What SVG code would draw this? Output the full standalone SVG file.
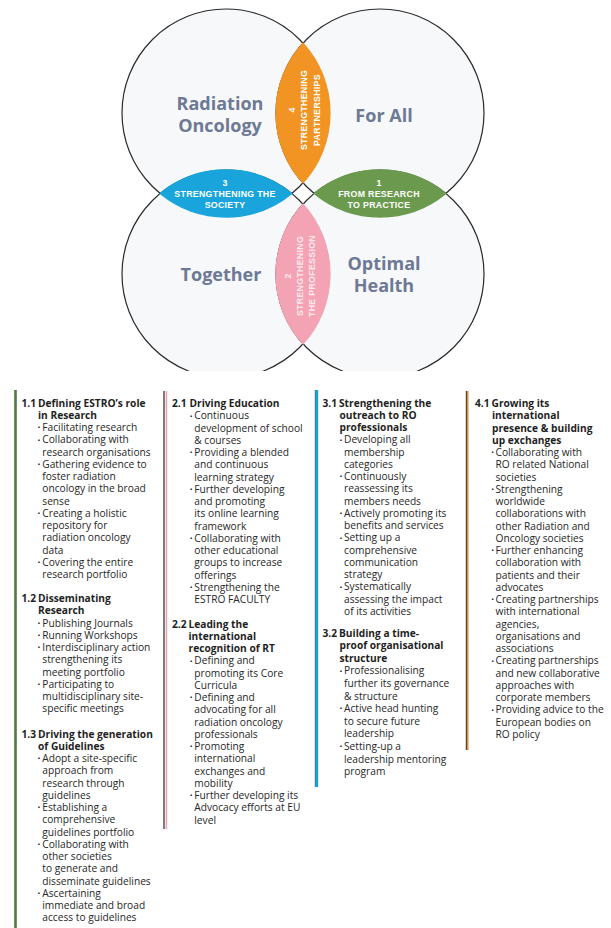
<svg xmlns="http://www.w3.org/2000/svg" width="611" height="928" viewBox="0 0 611 928">
<style>
.circ{fill:#f7f8fa;stroke:#2a2a2a;stroke-width:1.2}
.big{font-family:"Open Sans","Liberation Sans",sans-serif;font-weight:700;font-size:18px;fill:#6d7995;text-anchor:middle}
.lens{font-family:"Liberation Sans","DejaVu Sans",sans-serif;font-weight:700;font-size:8.8px;fill:#ffffff;text-anchor:middle;letter-spacing:0.3px}
.pk{fill:#fde9ee}
.h{font-family:"Open Sans","Liberation Sans",sans-serif;font-weight:700;font-size:10.2px;fill:#1e1e1e}
.t{font-family:"Open Sans","Liberation Sans",sans-serif;font-size:10.2px;fill:#262626}
.b{font-family:"Open Sans","Liberation Sans",sans-serif;font-size:7.5px;fill:#262626}
</style>
<defs>
<clipPath id="vclip"><rect x="0" y="0" width="611" height="371"/></clipPath>
</defs>
<rect width="611" height="928" fill="#ffffff"/>

<g id="venn" clip-path="url(#vclip)">
  <g id="circles">
    <circle class="circ" cx="226" cy="113" r="104"/>
    <circle class="circ" cx="380" cy="113" r="104"/>
    <circle class="circ" cx="226" cy="274" r="104"/>
    <circle class="circ" cx="380" cy="274" r="104"/>
  </g>
  <g id="lens4">
    <path d="M303,43.09 A104,104 0 0 0 303,182.91 A104,104 0 0 0 303,43.09 Z" fill="#f29423" stroke="#f29423" stroke-width="1.3"/>
    <g transform="translate(303,110) rotate(-90)">
      <text class="lens" x="0" y="-8.3">4</text>
      <text class="lens" x="0" y="3.5">STRENGTHENING</text>
      <text class="lens" x="0" y="16.5">PARTNERSHIPS</text>
    </g>
  </g>
  <g id="lens3">
    <path d="M160.15,193.5 A104,104 0 0 0 291.85,193.5 A104,104 0 0 0 160.15,193.5 Z" fill="#19a5dc" stroke="#19a5dc" stroke-width="1.3"/>
    <text class="lens" x="225" y="186">3</text>
    <text class="lens" x="225" y="196.8">STRENGTHENING THE</text>
    <text class="lens" x="225" y="208.3">SOCIETY</text>
  </g>
  <g id="lens1">
    <path d="M314.15,193.5 A104,104 0 0 0 445.85,193.5 A104,104 0 0 0 314.15,193.5 Z" fill="#6b9a4f" stroke="#6b9a4f" stroke-width="1.3"/>
    <text class="lens" x="379" y="186">1</text>
    <text class="lens" x="379" y="196.8">FROM RESEARCH</text>
    <text class="lens" x="379" y="208.3">TO PRACTICE</text>
  </g>
  <g id="lens2">
    <path d="M303,204.09 A104,104 0 0 0 303,343.91 A104,104 0 0 0 303,204.09 Z" fill="#f3a3b4" stroke="#f3a3b4" stroke-width="1.3"/>
    <g transform="translate(300,276) rotate(-90)">
      <text class="lens pk" x="0" y="-9">2</text>
      <text class="lens pk" x="0" y="2.5">STRENGTHENING</text>
      <text class="lens pk" x="0" y="15">THE PROFESSION</text>
    </g>
  </g>
  <g id="words">
    <text class="big" x="220" y="110">Radiation</text>
    <text class="big" x="220" y="132">Oncology</text>
    <text class="big" x="384" y="122">For All</text>
    <text class="big" x="221" y="281">Together</text>
    <text class="big" x="384" y="270">Optimal</text>
    <text class="big" x="384" y="292">Health</text>
  </g>
</g>

<g id="bars">
  <rect x="14.2" y="390" width="2.6" height="538" fill="#4f7a3c"/>
  <rect x="163.4" y="391" width="1.2" height="438" fill="#2a2a2a"/>
  <rect x="165.6" y="391" width="1.6" height="438" fill="#f0a3b2"/>
  <rect x="314.8" y="390" width="1" height="397" fill="#1f5f85"/>
  <rect x="315.8" y="390" width="2.4" height="397" fill="#1aa0dc"/>
  <rect x="465.8" y="391" width="1.1" height="359" fill="#3a2a1a"/>
  <rect x="466.9" y="391" width="1.6" height="359" fill="#d8923a"/>
</g>

<g id="col1">
  <text class="h" x="21.5" y="406.5">1.1</text>
  <text class="h" x="38" y="406.5">Defining ESTRO’s role</text>
  <text class="h" x="38" y="418.75">in Research</text>
  <text class="b" x="37.6" y="430.3">•</text><text class="t" x="42.3" y="431">Facilitating research</text>
  <text class="b" x="37.6" y="442.55">•</text><text class="t" x="42.3" y="443.25">Collaborating with</text>
  <text class="t" x="42.3" y="455.5">research organisations</text>
  <text class="b" x="37.6" y="467.05">•</text><text class="t" x="42.3" y="467.75">Gathering evidence to</text>
  <text class="t" x="42.3" y="480">foster radiation</text>
  <text class="t" x="42.3" y="492.25">oncology in the broad</text>
  <text class="t" x="42.3" y="504.5">sense</text>
  <text class="b" x="37.6" y="516.05">•</text><text class="t" x="42.3" y="516.75">Creating a holistic</text>
  <text class="t" x="42.3" y="529">repository for</text>
  <text class="t" x="42.3" y="541.25">radiation oncology</text>
  <text class="t" x="42.3" y="553.5">data</text>
  <text class="b" x="37.6" y="565.05">•</text><text class="t" x="42.3" y="565.75">Covering the entire</text>
  <text class="t" x="42.3" y="578">research portfolio</text>

  <text class="h" x="21.5" y="602">1.2</text>
  <text class="h" x="38" y="602">Disseminating</text>
  <text class="h" x="38" y="614.25">Research</text>
  <text class="b" x="37.6" y="625.8">•</text><text class="t" x="42.3" y="626.5">Publishing Journals</text>
  <text class="b" x="37.6" y="638.05">•</text><text class="t" x="42.3" y="638.75">Running Workshops</text>
  <text class="b" x="37.6" y="650.3">•</text><text class="t" x="42.3" y="651">Interdisciplinary action</text>
  <text class="t" x="42.3" y="663.25">strengthening its</text>
  <text class="t" x="42.3" y="675.5">meeting portfolio</text>
  <text class="b" x="37.6" y="687.05">•</text><text class="t" x="42.3" y="687.75">Participating to</text>
  <text class="t" x="42.3" y="700">multidisciplinary site-</text>
  <text class="t" x="42.3" y="712.25">specific meetings</text>

  <text class="h" x="21.5" y="737.5">1.3</text>
  <text class="h" x="38" y="737.5">Driving the generation</text>
  <text class="h" x="38" y="749.75">of Guidelines</text>
  <text class="b" x="37.6" y="761.3">•</text><text class="t" x="42.3" y="762">Adopt a site-specific</text>
  <text class="t" x="42.3" y="774.25">approach from</text>
  <text class="t" x="42.3" y="786.5">research through</text>
  <text class="t" x="42.3" y="798.75">guidelines</text>
  <text class="b" x="37.6" y="810.3">•</text><text class="t" x="42.3" y="811">Establishing a</text>
  <text class="t" x="42.3" y="823.25">comprehensive</text>
  <text class="t" x="42.3" y="835.5">guidelines portfolio</text>
  <text class="b" x="37.6" y="847.05">•</text><text class="t" x="42.3" y="847.75">Collaborating with</text>
  <text class="t" x="42.3" y="860">other societies</text>
  <text class="t" x="42.3" y="872.25">to generate and</text>
  <text class="t" x="42.3" y="884.5">disseminate guidelines</text>
  <text class="b" x="37.6" y="896.05">•</text><text class="t" x="42.3" y="896.75">Ascertaining</text>
  <text class="t" x="42.3" y="909">immediate and broad</text>
  <text class="t" x="42.3" y="921.25">access to guidelines</text>
</g>

<g id="col2">
  <text class="h" x="172" y="407">2.1</text>
  <text class="h" x="189.5" y="407">Driving Education</text>
  <text class="b" x="189.8" y="418.55">•</text><text class="t" x="194.3" y="419.25">Continuous</text>
  <text class="t" x="194.3" y="431.5">development of school</text>
  <text class="t" x="194.3" y="443.75">&amp; courses</text>
  <text class="b" x="189.8" y="455.3">•</text><text class="t" x="194.3" y="456">Providing a blended</text>
  <text class="t" x="194.3" y="468.25">and continuous</text>
  <text class="t" x="194.3" y="480.5">learning strategy</text>
  <text class="b" x="189.8" y="492.05">•</text><text class="t" x="194.3" y="492.75">Further developing</text>
  <text class="t" x="194.3" y="505">and promoting</text>
  <text class="t" x="194.3" y="517.25">its online learning</text>
  <text class="t" x="194.3" y="529.5">framework</text>
  <text class="b" x="189.8" y="541.05">•</text><text class="t" x="194.3" y="541.75">Collaborating with</text>
  <text class="t" x="194.3" y="554">other educational</text>
  <text class="t" x="194.3" y="566.25">groups to increase</text>
  <text class="t" x="194.3" y="578.5">offerings</text>
  <text class="b" x="189.8" y="590.05">•</text><text class="t" x="194.3" y="590.75">Strengthening the</text>
  <text class="t" x="194.3" y="603">ESTRO FACULTY</text>

  <text class="h" x="172" y="627.5">2.2</text>
  <text class="h" x="188.5" y="627.5">Leading the</text>
  <text class="h" x="188.5" y="639.75">international</text>
  <text class="h" x="188.5" y="652">recognition of RT</text>
  <text class="b" x="189.8" y="663.55">•</text><text class="t" x="194.3" y="664.25">Defining and</text>
  <text class="t" x="194.3" y="676.5">promoting its Core</text>
  <text class="t" x="194.3" y="688.75">Curricula</text>
  <text class="b" x="189.8" y="700.3">•</text><text class="t" x="194.3" y="701">Defining and</text>
  <text class="t" x="194.3" y="713.25">advocating for all</text>
  <text class="t" x="194.3" y="725.5">radiation oncology</text>
  <text class="t" x="194.3" y="737.75">professionals</text>
  <text class="b" x="189.8" y="749.3">•</text><text class="t" x="194.3" y="750">Promoting</text>
  <text class="t" x="194.3" y="762.25">international</text>
  <text class="t" x="194.3" y="774.5">exchanges and</text>
  <text class="t" x="194.3" y="786.75">mobility</text>
  <text class="b" x="189.8" y="798.3">•</text><text class="t" x="194.3" y="799">Further developing its</text>
  <text class="t" x="194.3" y="811.25">Advocacy efforts at EU</text>
  <text class="t" x="194.3" y="823.5">level</text>
</g>

<g id="col3">
  <text class="h" x="322.5" y="406.5">3.1</text>
  <text class="h" x="339" y="406.5">Strengthening the</text>
  <text class="h" x="339.5" y="418.75">outreach to RO</text>
  <text class="h" x="339.5" y="431">professionals</text>
  <text class="b" x="339.6" y="442.55">•</text><text class="t" x="344" y="443.25">Developing all</text>
  <text class="t" x="344" y="455.5">membership</text>
  <text class="t" x="344" y="467.75">categories</text>
  <text class="b" x="339.6" y="479.3">•</text><text class="t" x="344" y="480">Continuously</text>
  <text class="t" x="344" y="492.25">reassessing its</text>
  <text class="t" x="344" y="504.5">members needs</text>
  <text class="b" x="339.6" y="516.05">•</text><text class="t" x="344" y="516.75">Actively promoting its</text>
  <text class="t" x="344" y="529">benefits and services</text>
  <text class="b" x="339.6" y="540.55">•</text><text class="t" x="344" y="541.25">Setting up a</text>
  <text class="t" x="344" y="553.5">comprehensive</text>
  <text class="t" x="344" y="565.75">communication</text>
  <text class="t" x="344" y="578">strategy</text>
  <text class="b" x="339.6" y="589.55">•</text><text class="t" x="344" y="590.25">Systematically</text>
  <text class="t" x="344" y="602.5">assessing the impact</text>
  <text class="t" x="344" y="614.75">of its activities</text>

  <text class="h" x="322.5" y="636.5">3.2</text>
  <text class="h" x="339" y="636.5">Building a time-</text>
  <text class="h" x="339.5" y="649.1">proof organisational</text>
  <text class="h" x="339.5" y="661.7">structure</text>
  <text class="b" x="339.6" y="673.6">•</text><text class="t" x="344" y="674.3">Professionalising</text>
  <text class="t" x="344" y="686.9">further its governance</text>
  <text class="t" x="344" y="699.5">&amp; structure</text>
  <text class="b" x="339.6" y="711.4">•</text><text class="t" x="344" y="712.1">Active head hunting</text>
  <text class="t" x="344" y="724.7">to secure future</text>
  <text class="t" x="344" y="737.3">leadership</text>
  <text class="b" x="339.6" y="749.2">•</text><text class="t" x="344" y="749.9">Setting-up a</text>
  <text class="t" x="344" y="762.5">leadership mentoring</text>
  <text class="t" x="344" y="775.1">program</text>
</g>

<g id="col4">
  <text class="h" x="475" y="407">4.1</text>
  <text class="h" x="491.5" y="407">Growing its</text>
  <text class="h" x="492" y="419.25">international</text>
  <text class="h" x="492" y="431.5">presence &amp; building</text>
  <text class="h" x="492" y="443.75">up exchanges</text>
  <text class="b" x="491.2" y="455.3">•</text><text class="t" x="495.5" y="456">Collaborating with</text>
  <text class="t" x="495.5" y="468.25">RO related National</text>
  <text class="t" x="495.5" y="480.5">societies</text>
  <text class="b" x="491.2" y="492.05">•</text><text class="t" x="495.5" y="492.75">Strengthening</text>
  <text class="t" x="495.5" y="505">worldwide</text>
  <text class="t" x="495.5" y="517.25">collaborations with</text>
  <text class="t" x="495.5" y="529.5">other Radiation and</text>
  <text class="t" x="495.5" y="541.75">Oncology societies</text>
  <text class="b" x="491.2" y="553.3">•</text><text class="t" x="495.5" y="554">Further enhancing</text>
  <text class="t" x="495.5" y="566.25">collaboration with</text>
  <text class="t" x="495.5" y="578.5">patients and their</text>
  <text class="t" x="495.5" y="590.75">advocates</text>
  <text class="b" x="491.2" y="602.3">•</text><text class="t" x="495.5" y="603">Creating partnerships</text>
  <text class="t" x="495.5" y="615.25">with international</text>
  <text class="t" x="495.5" y="627.5">agencies,</text>
  <text class="t" x="495.5" y="639.75">organisations and</text>
  <text class="t" x="495.5" y="652">associations</text>
  <text class="b" x="491.2" y="663.55">•</text><text class="t" x="495.5" y="664.25">Creating partnerships</text>
  <text class="t" x="495.5" y="676.5">and new collaborative</text>
  <text class="t" x="495.5" y="688.75">approaches with</text>
  <text class="t" x="495.5" y="701">corporate members</text>
  <text class="b" x="491.2" y="712.55">•</text><text class="t" x="495.5" y="713.25">Providing advice to the</text>
  <text class="t" x="495.5" y="725.5">European bodies on</text>
  <text class="t" x="495.5" y="737.75">RO policy</text>
</g>
</svg>
